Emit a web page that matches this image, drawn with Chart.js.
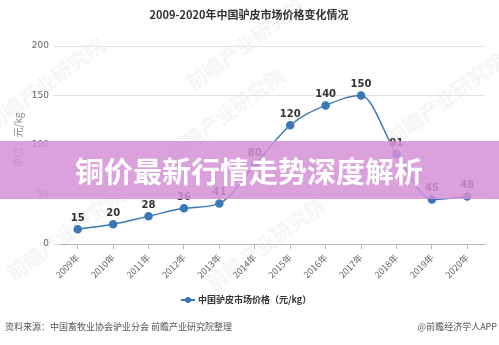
<!DOCTYPE html>
<html>
<head>
<meta charset="utf-8">
<script src="https://cdn.jsdelivr.net/npm/chart.js@4.4.1/dist/chart.umd.min.js"></script>
<style>
  html, body { margin: 0; padding: 0; background: #fff; }
  #wrap { position: relative; width: 499px; height: 345px; }
</style>
</head>
<body>
<div id="wrap"><canvas id="price-chart" width="499" height="345"></canvas></div>
<script>
// 年份与价格（元/kg）
const years = ['2009年', '2010年', '2011年', '2012年', '2013年', '2014年', '2015年', '2016年', '2017年', '2018年', '2019年', '2020年'];
const prices = [15, 20, 28, 36, 41, 80, 120, 140, 150, 91, 45, 48];
const yTicks = [0, 50, 100, 150, 200];

const titleText = '2009-2020年中国驴皮市场价格变化情况';
const seriesName = '中国驴皮市场价格（元/kg）';
const unitText = '单位：元/kg';
const sourceText = '资料来源：中国畜牧业协会驴业分会 前瞻产业研究院整理';
const brandText = '@前瞻经济学人APP';
const bannerText = '铜价最新行情走势深度解析';

const lineColor = '#3b78b5';
const fontFamily = '"Noto Sans CJK SC", "Noto Sans", sans-serif';

// 淡水印
const watermarkPlugin = {
  id: 'watermark',
  beforeDraw(chart) {
    const ctx = chart.ctx;
    ctx.save();
    ctx.fillStyle = 'rgba(210,210,210,0.22)';
    ctx.font = 'bold 20px ' + fontFamily;
    const spots = [[50, 90], [250, 50], [230, 120], [450, 105], [70, 240], [270, 250]];
    for (const [x, y] of spots) {
      ctx.save();
      ctx.translate(x, y);
      ctx.rotate(-Math.PI / 5);
      ctx.textAlign = 'center';
      ctx.fillText('前瞻产业研究院', 0, 0);
      ctx.restore();
    }
    ctx.restore();
  }
};

// 数据标签、标题、图例、来源、横幅
const decorPlugin = {
  id: 'decor',
  afterDatasetsDraw(chart) {
    const ctx = chart.ctx;
    const meta = chart.getDatasetMeta(0);
    ctx.save();
    ctx.font = 'bold 10px "DejaVu Sans", sans-serif';
    ctx.fillStyle = '#333';
    ctx.textAlign = 'center';
    ctx.textBaseline = 'bottom';
    meta.data.forEach((pt, i) => {
      ctx.fillText(String(prices[i]), pt.x, pt.y - 6);
    });
    ctx.restore();
  },
  afterDraw(chart) {
    const ctx = chart.ctx;
    const w = chart.width;
    ctx.save();

    // 标题
    ctx.font = 'bold 11px ' + fontFamily;
    ctx.fillStyle = '#333';
    ctx.textAlign = 'center';
    ctx.textBaseline = 'middle';
    ctx.fillText(titleText, 249, 15);

    // 单位
    ctx.save();
    ctx.translate(18, 140);
    ctx.rotate(-Math.PI / 2);
    ctx.font = '10px ' + fontFamily;
    ctx.fillStyle = '#888';
    ctx.fillText(unitText, 0, 0);
    ctx.restore();

    // 图例
    ctx.strokeStyle = lineColor;
    ctx.lineWidth = 2;
    ctx.beginPath();
    ctx.moveTo(181, 300);
    ctx.lineTo(195, 300);
    ctx.stroke();
    ctx.fillStyle = lineColor;
    ctx.beginPath();
    ctx.arc(188, 300, 3, 0, Math.PI * 2);
    ctx.fill();
    ctx.font = 'bold 9px ' + fontFamily;
    ctx.fillStyle = '#333';
    ctx.textAlign = 'left';
    ctx.fillText(seriesName, 198, 300);

    // 来源
    ctx.font = '9px ' + fontFamily;
    ctx.fillStyle = '#555';
    ctx.fillText(sourceText, 5, 327);
    ctx.textAlign = 'right';
    ctx.fillText(brandText, 497, 327);

    // 横幅
    ctx.fillStyle = 'rgba(212,145,214,0.85)';
    ctx.fillRect(0, 141, w, 58);
    ctx.font = 'bold 29px ' + fontFamily;
    ctx.fillStyle = '#fff';
    ctx.textAlign = 'center';
    ctx.fillText(bannerText, 249, 172);

    ctx.restore();
  }
};

new Chart(document.getElementById('price-chart'), {
  type: 'line',
  data: {
    labels: years,
    datasets: [{
      label: seriesName,
      data: prices,
      borderColor: lineColor,
      backgroundColor: lineColor,
      borderWidth: 1.5,
      pointRadius: 3.5,
      pointHoverRadius: 3.5,
      cubicInterpolationMode: 'monotone',
      fill: false
    }]
  },
  options: {
    responsive: false,
    animation: false,
    devicePixelRatio: 1,
    layout: { padding: { top: 46, right: 14, bottom: 0, left: 0 } },
    plugins: {
      legend: { display: false },
      title: { display: false },
      tooltip: { enabled: false }
    },
    scales: {
      x: {
        offset: true,
        afterFit(scale) { scale.height = 101; },
        grid: {
          offset: false,
          drawOnChartArea: false,
          drawTicks: true,
          tickLength: 5,
          color: '#bbb'
        },
        border: { display: true, color: '#bbb' },
        ticks: {
          maxRotation: 45,
          minRotation: 45,
          padding: 3,
          color: '#666',
          font: { size: 9, family: fontFamily }
        }
      },
      y: {
        min: 0,
        max: 200,
        afterFit(scale) { scale.width = 60; },
        afterBuildTicks(scale) { scale.ticks = yTicks.map(v => ({ value: v })); },
        grid: { color: '#e3e3e3', tickLength: 7 },
        border: { display: false },
        ticks: {
          padding: 4,
          color: '#666',
          font: { size: 9, family: '"DejaVu Sans", sans-serif' }
        }
      }
    }
  },
  plugins: [watermarkPlugin, decorPlugin]
});
</script>
</body>
</html>
